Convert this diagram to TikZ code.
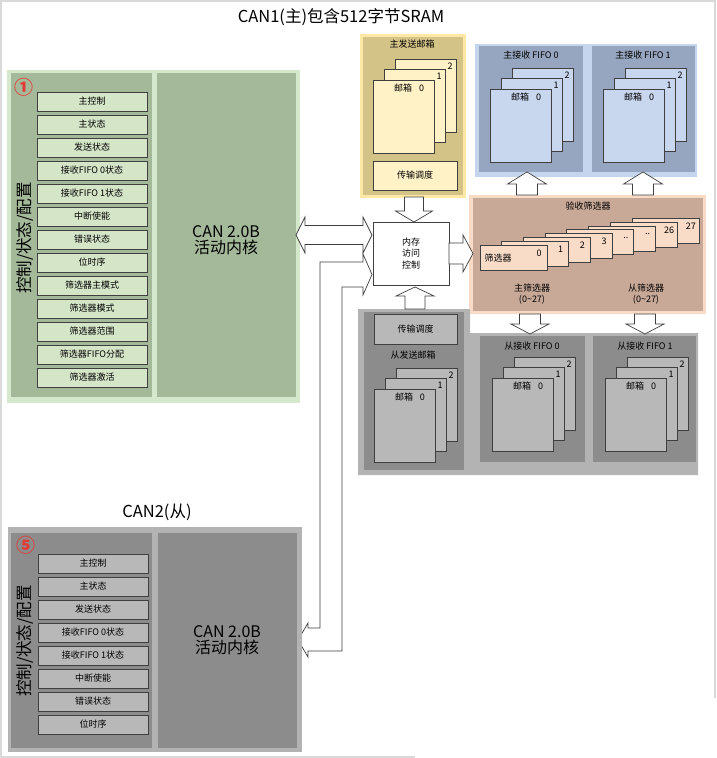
\documentclass[tikz,border=0pt]{standalone}
\usepackage{fontspec}
\setmainfont{Noto Sans CJK SC}

\definecolor{frameline}{HTML}{D9D9D9}
\definecolor{greenout}{HTML}{D6E8CB}
\definecolor{greenin}{HTML}{A4B99A}
\definecolor{greenreg}{HTML}{D5E5C8}
\definecolor{tanout}{HTML}{FFE8A6}
\definecolor{tanin}{HTML}{D4C386}
\definecolor{tanbox}{HTML}{FFF2C6}
\definecolor{blueout}{HTML}{C6D5EE}
\definecolor{bluein}{HTML}{97A6C0}
\definecolor{bluebox}{HTML}{C8D6EE}
\definecolor{peachout}{HTML}{F8DAC6}
\definecolor{brownin}{HTML}{C8A897}
\definecolor{filtfill}{HTML}{F9DCC8}
\definecolor{grayout}{HTML}{B3B3B3}
\definecolor{grayin}{HTML}{8C8C8C}
\definecolor{graybox}{HTML}{B8B8B8}
\definecolor{boxline}{HTML}{3F3F3F}
\definecolor{markred}{HTML}{E53935}

\tikzset{
  panel/.style={inner sep=0pt, outer sep=0pt, anchor=north west},
  regbox/.style={panel, draw=boxline, line width=0.8pt, minimum width=110pt, minimum height=19pt, font=\fontsize{9}{10}\selectfont},
  mailbox/.style={panel, draw=boxline, line width=0.8pt, minimum width=61pt, minimum height=73pt},
  filtbox/.style={panel, draw=boxline, line width=0.8pt, fill=filtfill, minimum width=67pt, minimum height=25pt},
  smalltxt/.style={font=\fontsize{9}{11}\selectfont, inner sep=0pt},
  bigtxt/.style={font=\fontsize{16.5}{17}\selectfont, inner sep=0pt},
  coretxt/.style={font=\fontsize{16}{16.5}\selectfont, align=center, inner sep=0pt},
  marktxt/.style={text=markred, font=\fontsize{19}{19}\selectfont\bfseries, inner sep=0pt},
  blockarr/.style={draw=boxline, fill=white, line width=0.7pt, line join=miter}
}

% three stacked mailboxes: name, x, y (box 0, top left), fill
\newcommand{\mbstack}[4]{%
  \node[mailbox, fill=#4] (#1b2) at (#2+22,#3-21) {};
  \node[mailbox, fill=#4] (#1b1) at (#2+11,#3-10.5) {};
  \node[mailbox, fill=#4] (#1b0) at (#2,#3) {};
  \node[smalltxt] at ([xshift=-6pt,yshift=-7pt]#1b2.north east) {2};
  \node[smalltxt] at ([xshift=-6pt,yshift=-7pt]#1b1.north east) {1};
  \node[smalltxt] at ([xshift=36pt,yshift=-8pt]#1b0.north west) {邮箱\hspace{7pt}0};
}
% vertical block arrow: x, tail y, head base y, tip y, half shaft, half head
\newcommand{\varr}[6]{%
  \draw[blockarr] (#1-#5,#2) -- (#1-#5,#3) -- (#1-#6,#3) -- (#1,#4) -- (#1+#6,#3) -- (#1+#5,#3) -- (#1+#5,#2) -- cycle;
}
% horizontal block arrow: y, tail x, head base x, tip x, half shaft, half head
\newcommand{\harr}[6]{%
  \draw[blockarr] (#2,#1-#5) -- (#3,#1-#5) -- (#3,#1-#6) -- (#4,#1) -- (#3,#1+#6) -- (#3,#1+#5) -- (#2,#1+#5) -- cycle;
}

\begin{document}
\begin{tikzpicture}[x=1pt, y=-1pt]
  \useasboundingbox (0,0) rectangle (716,758);
  % screenshot frame
  \draw[frameline, line width=2pt] (0,1) -- (716,1) (1,0) -- (1,757) (0,757) -- (415,757) (715,0) -- (715,698);
  \node (title) at (341,17) [bigtxt] {CAN1(主)包含512字节SRAM};

  % CAN1
  \node[panel, fill=greenout, minimum width=293pt, minimum height=333pt] (can1) at (7,70) {};
  \node[panel, fill=greenin, minimum width=141pt, minimum height=324pt] (ctl1) at (11,73) {};
  \node[panel, fill=greenin, minimum width=139pt, minimum height=324pt] (core1) at (157,73) {};
  \foreach \t [count=\i from 0] in {主控制,主状态,发送状态,接收FIFO 0状态,接收FIFO 1状态,中断使能,错误状态,位时序,筛选器主模式,筛选器模式,筛选器范围,筛选器FIFO分配,筛选器激活}
    \node[regbox, fill=greenreg] (reg\i) at (37,92+23*\i) {\t};
  \node[marktxt] (mark1) at (24,87) {①};
  \node[bigtxt, rotate=90] (side1) at (25,238) {控制/状态/配置};
  \node[coretxt] (coretxt1) at (226,240) {CAN 2.0B\\活动内核};

  % master transmit mailboxes
  \node[panel, fill=tanout, minimum width=106pt, minimum height=164pt] (txout) at (360,34) {};
  \node[panel, fill=tanin, minimum width=100pt, minimum height=158pt] (txin) at (363,37) {};
  \node[smalltxt] (txtitle) at (412,44) {主发送邮箱};
  \mbstack{tx}{373}{80}{tanbox}
  \node[panel, draw=boxline, line width=0.8pt, fill=tanbox, minimum width=84pt, minimum height=29pt] (sched) at (373,161) {};
  \node[smalltxt] at (sched.center) {传输调度};

  % master receive FIFOs
  \node[panel, fill=blueout, minimum width=222pt, minimum height=133pt] (rxout) at (475,44) {};
  \node[panel, fill=bluein, minimum width=104pt, minimum height=126pt] (fifoA) at (479,46) {};
  \node[panel, fill=bluein, minimum width=103pt, minimum height=126pt] (fifoB) at (592,46) {};
  \node[smalltxt] at (531,55) {主接收 FIFO 0};
  \node[smalltxt] at (643,55) {主接收 FIFO 1};
  \mbstack{ra}{490}{89}{bluebox}
  \mbstack{rb}{603}{89}{bluebox}

  % acceptance filters
  \node[panel, fill=peachout, minimum width=237pt, minimum height=119pt] (filtout) at (469,195) {};
  \node[panel, fill=brownin, minimum width=230pt, minimum height=113pt] (filtin) at (473,198) {};
  \node[smalltxt] at (588,206) {验收筛选器};
  \foreach \i/\t in {7/27,6/26,5/..,4/..,3/3,2/2,1/1,0/0} {
    \node[filtbox] (f\i) at (480+21.7*\i,245-3.8*\i) {};
    \node[smalltxt] at ([xshift=-8pt,yshift=-8pt]f\i.north east) {\t};
  }
  \node[smalltxt] at ([xshift=18pt,yshift=-13pt]f0.north west) {筛选器};
  \node[smalltxt, align=center] at (532,294) {主筛选器\\(0\textasciitilde 27)};
  \node[smalltxt, align=center] at (646,294) {从筛选器\\(0\textasciitilde 27)};

  % slave side
  \fill[grayout] (358,309) -| (470,333) -| (698,475) -| cycle;
  \node[panel, fill=grayin, minimum width=100pt, minimum height=158pt] (stx) at (364,312) {};
  \node[panel, draw=boxline, line width=0.8pt, fill=graybox, minimum width=83pt, minimum height=30pt] (ssched) at (374,314) {};
  \node[smalltxt] at (ssched.center) {传输调度};
  \node[smalltxt] at (413,355) {从发送邮箱};
  \mbstack{stx}{374}{389}{graybox}
  \node[panel, fill=grayin, minimum width=105pt, minimum height=126pt] (sfifoA) at (480,336) {};
  \node[panel, fill=grayin, minimum width=103pt, minimum height=126pt] (sfifoB) at (593,336) {};
  \node[smalltxt] at (532,346) {从接收 FIFO 0};
  \node[smalltxt] at (645,346) {从接收 FIFO 1};
  \mbstack{sa}{492}{378}{graybox}
  \mbstack{sb}{605}{378}{graybox}

  % memory access control
  \node[panel, draw=boxline, line width=0.8pt, fill=white, minimum width=76pt, minimum height=63pt] (memctl) at (373,222) {};
  \node[smalltxt, align=center, font=\fontsize{9}{11.5}\selectfont] at (memctl.center) {内存\\访问\\控制};

  % block arrows
  \varr{527}{195}{184}{172}{10.5}{19.5}
  \varr{643}{195}{184}{172}{10.5}{19.5}
  \varr{530}{314}{324}{334}{10.5}{19}
  \varr{645}{314}{324}{334}{10.5}{19}
  \varr{414}{197}{211}{222}{9.5}{18.5}
  \varr{415}{309}{296}{287}{10}{19}
  \harr{253.5}{449}{463}{473}{10.5}{18.5}
  \draw[blockarr] (296,235) -- (305,217) -- (305,225.5) -- (363,225.5) -- (363,217) -- (372,235)
    -- (363,253) -- (363,244.5) -- (305,244.5) -- (305,253) -- cycle;
  \draw[blockarr] (372,274.5) -- (363,254) -- (363,262) -- (320,262) -- (320,628) -- (308,628) -- (308,623)
    -- (298,640) -- (308,657) -- (308,651) -- (342,651) -- (342,287) -- (363,287) -- (363,295) -- cycle;

  % CAN2
  \node[bigtxt] (title2) at (157,512) {CAN2(从)};
  \node[panel, fill=grayout, minimum width=294pt, minimum height=225pt] (can2) at (8,527) {};
  \node[panel, fill=grayin, minimum width=141pt, minimum height=215pt] (ctl2) at (11,533) {};
  \node[panel, fill=grayin, minimum width=139pt, minimum height=215pt] (core2) at (158,533) {};
  \foreach \t [count=\i from 0] in {主控制,主状态,发送状态,接收FIFO 0状态,接收FIFO 1状态,中断使能,错误状态,位时序}
    \node[regbox, fill=graybox] (sreg\i) at (38,554+23*\i) {\t};
  \node[marktxt] (mark5) at (26,545) {⑤};
  \node[bigtxt, rotate=90] (side2) at (25,641) {控制/状态/配置};
  \node[coretxt] (coretxt2) at (227,640) {CAN 2.0B\\活动内核};
\end{tikzpicture}
\end{document}
